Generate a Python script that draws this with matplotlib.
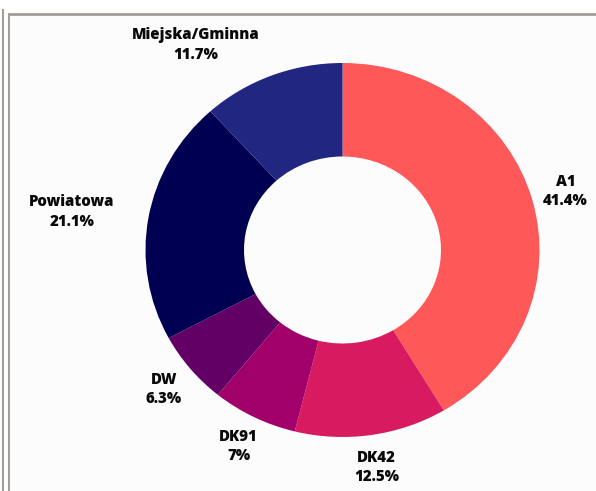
import matplotlib.pyplot as plt
import numpy as np
from matplotlib.lines import Line2D

labels = ["A1", "DK42", "DK91", "DW", "Powiatowa", "Miejska/Gminna"]
values = [41.4, 12.5, 7, 6.3, 21.1, 11.7]
colors = ["#ff5858", "#d81b60", "#a1006b", "#630066", "#000052", "#212680"]
# labels that would run into the ring are pushed outward (right-aligned)
label_ha = ["center", "center", "center", "center", "right", "right"]

plt.rcParams['font.family'] = ['Open Sans', 'DejaVu Sans']

fig = plt.figure(figsize=(5.96, 4.91), dpi=100)
fig.patch.set_facecolor("white")

# panel background + frame lines
fig.patches.append(plt.Rectangle((9/596, 0), 1, 1 - 15/491, transform=fig.transFigure,
                                 facecolor="#fcfcfc", edgecolor="none", zorder=-1))
fig.add_artist(Line2D([2.5/596, 2.5/596], [0, 1 - 10/491], color="#a59d97", lw=1.5))
fig.add_artist(Line2D([8.5/596, 8.5/596], [0, 1 - 14/491], color="#a59d97", lw=1.5))
fig.add_artist(Line2D([8.5/596, 1], [1 - 14/491, 1 - 14/491], color="#a59d97", lw=2))

# ring is slightly wider than tall in the reference
cx, cy, rx, ry = 342.5, 250, 197, 187
ax = fig.add_axes([(cx - rx)/596, (491 - cy - ry)/491, 2*rx/596, 2*ry/491])

wedges, _ = ax.pie(values, colors=colors, startangle=90, counterclock=False,
                   radius=1, wedgeprops=dict(width=0.5, edgecolor="none"))
ax.set_aspect("auto")
ax.set_xlim(-1, 1)
ax.set_ylim(-1, 1)
ax.axis("off")

for w, lab, v, ha in zip(wedges, labels, values, label_ha):
    ang = np.deg2rad((w.theta1 + w.theta2) / 2)
    d = 1.175
    ax.text(d*np.cos(ang), d*np.sin(ang), f"{lab}\n{v:g}%", ha=ha, va="center",
            multialignment="center", fontsize=10.8, fontweight="heavy",
            color="#0a0a0a", linespacing=1.3)

fig.savefig("out.png", dpi=100)
